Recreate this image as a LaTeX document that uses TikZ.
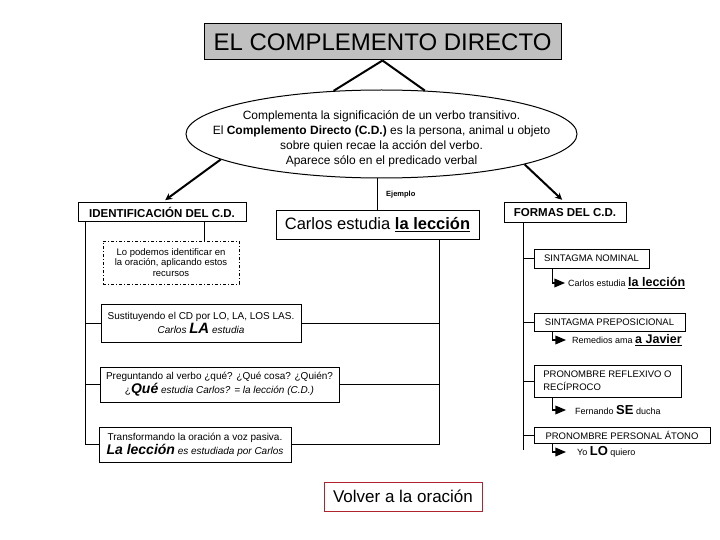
\documentclass[tikz,border=0pt]{standalone}
\usepackage{fontspec}
\setmainfont{Liberation Sans}
\usepackage{tikz}
\usetikzlibrary{shapes,arrows,positioning,calc}
\definecolor{titlegray}{RGB}{192,192,192}
\definecolor{volverred}{RGB}{176,36,48}
\newcommand{\fsz}[2]{\fontsize{#1}{#2}\selectfont}
\tikzset{
    cdbox/.style={draw, line width=1pt, fill=white, inner sep=2pt, align=center},
    cdline/.style={line width=1pt},
    cdthick/.style={line width=2pt},
    exarrow/.style={line width=1.5pt, -triangle 45},
    extext/.style={anchor=west, inner sep=0pt, font=\fsz{9}{11}}
}
\begin{document}
\begin{tikzpicture}[x=1pt, y=-1pt]
            \fill[white] (0,0) rectangle (720,540);
            \node[cdbox, fill=titlegray, minimum width=357pt, minimum height=36pt, font=\fsz{24}{28}] (title) at (382.5,42) {EL COMPLEMENTO DIRECTO};
            \node[ellipse, draw, line width=1pt, minimum width=391pt, minimum height=88pt] (ell) at (381.5,134) {};
            \node[align=center, inner sep=0pt, font=\fsz{12}{15}] (def) at (381.5,139) {
                Complementa la significación de un verbo transitivo.\\
                El \textbf{Complemento Directo (C.D.)} es la persona, animal u objeto\\
                sobre quien recae la acción del verbo.\\
                Aparece sólo en el predicado verbal
            };
            \draw[cdthick] (title.south) -- (ell.138);
            \draw[cdthick] (title.south) -- (ell.45);

            \node[cdbox, minimum width=168pt, minimum height=19pt, font=\bfseries\fsz{11.5}{13}] (ident) at (162,212.5) {IDENTIFICACIÓN DEL C.D.};
            \node[cdbox, minimum width=122pt, minimum height=20pt, font=\bfseries\fsz{11.5}{13}] (formas) at (565,213) {FORMAS DEL C.D.};
            \draw[cdthick, -stealth, shorten >=4pt] (ell.189) -- (ident.north);
            \draw[cdthick, -stealth, shorten >=4pt] (ell.-12) -- (formas.north);

            \node[cdbox, minimum width=203pt, minimum height=28pt, font=\fsz{16.5}{20}] (carlos) at (377.5,225) {Carlos estudia \textbf{\underline{la lección}}};
            \draw[cdline] (ell.south -| carlos.north) -- (carlos.north);
            \node[anchor=west, inner sep=0pt, font=\bfseries\fsz{7.5}{9}] (ejemplo) at (386,195) {Ejemplo};

            \node[cdbox, dash dot, minimum width=136pt, minimum height=43pt, font=\fsz{9.5}{10.5}] (recursos) at (171,262.5) {Lo podemos identificar en\\la oración, aplicando estos\\recursos};
            \coordinate (dlink) at (204,241);
            \draw[cdline] (dlink) -- (dlink |- ident.south);

            \node[cdbox, minimum width=200pt, minimum height=38pt, font=\fsz{10}{14}] (sust) at (201,323) {Sustituyendo el CD por LO, LA, LOS LAS.\\
                \textit{Carlos} {\fsz{15}{15}\bfseries\itshape LA} \textit{estudia}};
            \node[cdbox, minimum width=239pt, minimum height=35pt, font=\fsz{10}{14}] (preg) at (219.5,384.5) {Preguntando al verbo ¿qué? ¿Qué cosa? ¿Quién?\\
                ¿{\fsz{14}{14}\bfseries\itshape Qué} \textit{estudia Carlos? = la lección (C.D.)}};
            \node[cdbox, minimum width=192pt, minimum height=35pt, font=\fsz{10}{14}] (trans) at (195,444.5) {Transformando la oración a voz pasiva.\\
                {\fsz{14}{14}\bfseries\itshape La lección} \textit{es estudiada por Carlos}};

            \coordinate (lend) at (85,444.5);
            \draw[cdline] (ident.south -| lend) -- (lend) -- (trans.west);
            \draw[cdline] (sust.west) -- (sust.west -| lend);
            \draw[cdline] (preg.west) -- (preg.west -| lend);

            \coordinate (mend) at (439,444.5);
            \draw[cdline] (carlos.south -| mend) -- (mend) -- (trans.east);
            \draw[cdline] (sust.east) -- (sust.east -| mend);
            \draw[cdline] (preg.east) -- (preg.east -| mend);

            \node[cdbox, minimum width=115pt, minimum height=19pt, font=\fsz{9.5}{11}] (nominal) at (591.5,258.5) {SINTAGMA NOMINAL};
            \node[cdbox, minimum width=151pt, minimum height=18pt, font=\fsz{9.5}{11}] (prepos) at (609.5,322) {SINTAGMA PREPOSICIONAL};
            \node[cdbox, minimum width=147pt, minimum height=32pt, align=left, font=\fsz{9.5}{13}] (reflex) at (607.5,381) {PRONOMBRE REFLEXIVO O\\RECÍPROCO};
            \node[cdbox, minimum width=176pt, minimum height=16pt, font=\fsz{9.5}{11}] (atono) at (622,435) {PRONOMBRE PERSONAL ÁTONO};

            \coordinate (rend) at (523,450);
            \draw[cdline] (formas.south -| rend) -- (rend);
            \foreach \b in {nominal, prepos, reflex, atono}
                \draw[cdline] (\b.west) -- (\b.west -| rend);

            \node[extext] (ex1) at (568,283) {Carlos estudia {\fsz{12.5}{14}\bfseries\underline{la lección}}};
            \node[extext] (ex2) at (572,340) {Remedios ama {\fsz{12.5}{14}\bfseries\underline{a Javier}}};
            \node[extext] (ex3) at (575,410) {Fernando {\fsz{13}{14}\bfseries SE} ducha};
            \node[extext] (ex4) at (577,452) {Yo {\fsz{13}{14}\bfseries LO} quiero};
            \draw[exarrow, shorten >=3pt] ($(nominal.south west)+(19,0)$) |- (ex1.west);
            \draw[exarrow, shorten >=6pt] ($(prepos.south west)+(19,0)$) |- (ex2.west);
            \draw[exarrow, shorten >=9pt] ($(reflex.south west)+(19,0)$) |- (ex3.west);
            \draw[exarrow, shorten >=11pt] ($(atono.south west)+(19,0)$) |- (ex4.west);

            \node[cdbox, draw=volverred, minimum width=158pt, minimum height=29pt, font=\fsz{17}{20}] (volver) at (403,496.5) {Volver a la oración};
        \end{tikzpicture}
\end{document}
